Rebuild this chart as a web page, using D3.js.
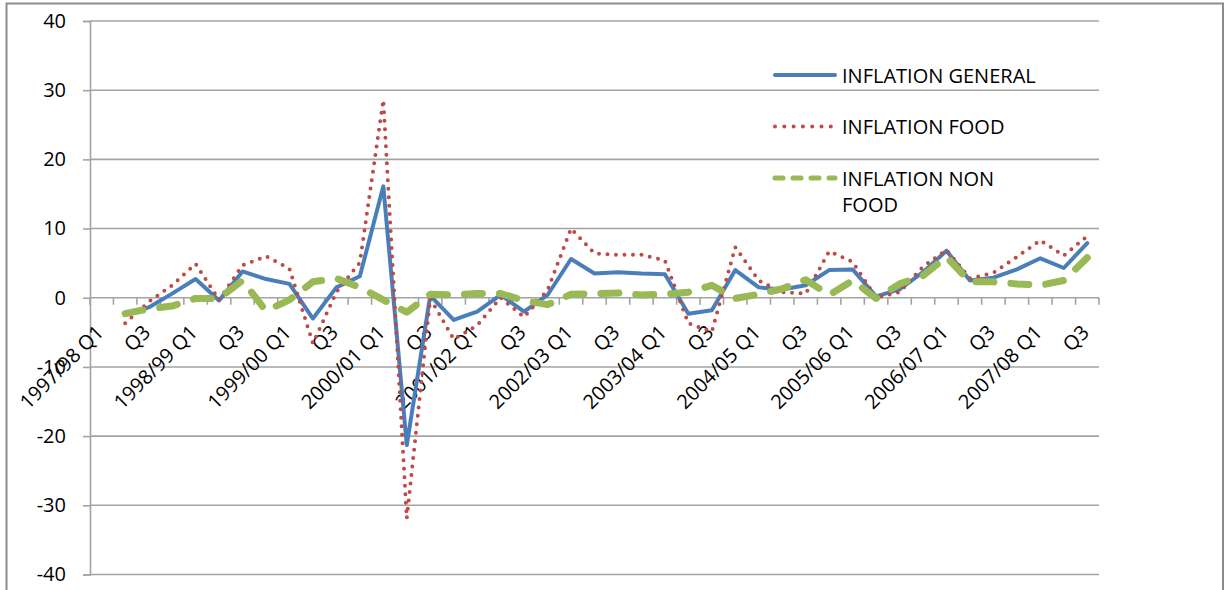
<!DOCTYPE html>
<html>
<head>
<meta charset="utf-8">
<script src="https://cdn.jsdelivr.net/npm/d3@7"></script>
<style>
  body { margin: 0; background: #fff; }
  svg { display: block; }
  text { font-family: "Open Sans", sans-serif; fill: #000; }
</style>
</head>
<body>
<svg id="chart" width="1225" height="590"></svg>
<script>
// Quarterly categories (fiscal years)
const categories = [
  "1997/98 Q1", "Q2", "Q3", "Q4",
  "1998/99 Q1", "Q2 ", "Q3 ", "Q4 ",
  "1999/00 Q1", "Q2  ", "Q3  ", "Q4  ",
  "2000/01 Q1", "Q2   ", "Q3   ", "Q4   ",
  "2001/02 Q1", "Q2    ", "Q3    ", "Q4    ",
  "2002/03 Q1", "Q2     ", "Q3     ", "Q4     ",
  "2003/04 Q1", "Q2      ", "Q3      ", "Q4      ",
  "2004/05 Q1", "Q2       ", "Q3       ", "Q4       ",
  "2005/06 Q1", "Q2        ", "Q3        ", "Q4        ",
  "2006/07 Q1", "Q2         ", "Q3         ", "Q4         ",
  "2007/08 Q1", "Q2          ", "Q3          "
];

// Inflation rates (%), one value per quarter; first quarter has no value
const inflationGeneral = [null, -2.5, -1.4, 0.6, 2.7, -0.4, 3.8, 2.7, 2.0, -3.0, 1.5, 3.1,
  16.1, -21.3, 0.3, -3.2, -2.0, 0.4, -2.0, 0.4, 5.6, 3.5, 3.7, 3.5, 3.4, -2.3, -1.8, 4.0,
  1.5, 1.2, 1.8, 4.0, 4.1, 0.2, 1.2, 3.7, 6.8, 2.5, 2.9, 4.1, 5.7, 4.3, 7.9];

const inflationFood = [null, -3.7, -0.6, 1.8, 4.9, -0.3, 4.7, 6.0, 4.2, -6.6, 0.8, 5.1,
  28.6, -31.9, -0.1, -6.0, -4.0, 0.0, -2.8, 1.1, 10.0, 6.4, 6.2, 6.2, 5.4, -3.7, -4.9, 7.3,
  2.5, 0.8, 0.6, 6.7, 5.2, 0.0, 0.8, 4.5, 6.9, 2.8, 3.6, 5.9, 8.3, 6.1, 8.9];

const inflationNonFood = [null, -2.3, -1.6, -1.2, -0.1, -0.1, 2.5, -1.9, -0.3, 2.3, 2.8, 1.5,
  -0.3, -2.1, 0.5, 0.4, 0.6, 0.6, -0.4, -1.0, 0.5, 0.6, 0.7, 0.4, 0.5, 0.8, 1.8, -0.1,
  0.5, 1.3, 2.6, 0.4, 2.5, -0.1, 2.0, 3.2, 5.9, 2.3, 2.3, 2.0, 1.8, 2.5, 5.8];

const yTickValues = [-40, -30, -20, -10, 0, 10, 20, 30, 40];

const seriesLabels = [["INFLATION GENERAL"], ["INFLATION FOOD"], ["INFLATION NON", "FOOD"]];

const series = [
  { values: inflationGeneral, color: "#4a7ebb", width: 4, dash: null, cap: "round",
    legendDash: null, legendWidth: 4 },
  { values: inflationFood, color: "#be4b48", width: 4, dash: "0 8.5", cap: "round",
    legendDash: "0 9.3", legendWidth: 4 },
  { values: inflationNonFood, color: "#98b954", width: 7, dash: "18 17", cap: "round",
    legendDash: "8 10", legendWidth: 5 }
];

const svg = d3.select("#chart");
const W = 1225, H = 590;
const plot = { left: 90, right: 1099, top: 21, bottom: 574.5 };

// outer chart frame
svg.append("rect")
  .attr("x", 6.5).attr("y", 3.5)
  .attr("width", 1216.5).attr("height", 600)
  .attr("fill", "#fff")
  .attr("stroke", "#8c8c8c").attr("stroke-width", 2);

const x = d3.scaleBand().domain(categories).range([plot.left, plot.right]).padding(0);
const y = d3.scaleLinear().domain([-40, 40]).range([plot.bottom, plot.top]);
const cx = c => x(c) + x.bandwidth() / 2;

const gridColor = "#a3a3a3";

// horizontal gridlines
svg.append("g").selectAll("line")
  .data(yTickValues.filter(v => v !== 0))
  .join("line")
  .attr("x1", plot.left).attr("x2", plot.right)
  .attr("y1", d => y(d)).attr("y2", d => y(d))
  .attr("stroke", gridColor).attr("stroke-width", 1.6);

// y axis
const yAxis = d3.axisLeft(y).tickValues(yTickValues).tickSize(7).tickPadding(17)
  .tickFormat(d3.format("d"));
const gy = svg.append("g").attr("transform", `translate(${plot.left},0)`).call(yAxis);
gy.select(".domain").attr("stroke", gridColor).attr("stroke-width", 1.6);
gy.selectAll(".tick line").attr("stroke", gridColor).attr("stroke-width", 1.6);
gy.selectAll(".tick text")
  .attr("font-size", 20).attr("font-family", "Open Sans, sans-serif").attr("fill", "#000")
  .text(d => d < 0 ? "-" + Math.abs(d) : d);

// x axis at zero with tick marks on category boundaries
const zeroY = y(0);
svg.append("line")
  .attr("x1", plot.left).attr("x2", plot.right)
  .attr("y1", zeroY).attr("y2", zeroY)
  .attr("stroke", gridColor).attr("stroke-width", 1.6);

const boundaries = categories.map(c => x(c)).concat([plot.right]);
svg.append("g").selectAll("line")
  .data(boundaries)
  .join("line")
  .attr("x1", d => d).attr("x2", d => d)
  .attr("y1", zeroY).attr("y2", zeroY + 7)
  .attr("stroke", gridColor).attr("stroke-width", 1.6);

// rotated category labels (every second quarter)
svg.append("g").selectAll("text")
  .data(categories.filter((c, i) => i % 2 === 0))
  .join("text")
  .attr("transform", d => `translate(${cx(d) + 3},${zeroY + 36}) rotate(-45)`)
  .attr("text-anchor", "end")
  .attr("font-size", 20)
  .text(d => d.trim());

// series lines
const line = d3.line()
  .defined(d => d.v !== null)
  .x(d => cx(d.c))
  .y(d => y(d.v));

series.forEach(s => {
  const pts = categories.map((c, i) => ({ c, v: s.values[i] }));
  svg.append("path")
    .datum(pts)
    .attr("d", line)
    .attr("fill", "none")
    .attr("stroke", s.color)
    .attr("stroke-width", s.width)
    .attr("stroke-linejoin", "round")
    .attr("stroke-linecap", s.cap)
    .attr("stroke-dasharray", s.dash);
});

// legend
const legend = svg.append("g").attr("transform", "translate(775,0)");
const legendY = [75, 126.5, 178];
series.forEach((s, i) => {
  legend.append("line")
    .attr("x1", 0).attr("x2", 60)
    .attr("y1", legendY[i]).attr("y2", legendY[i])
    .attr("stroke", s.color)
    .attr("stroke-width", s.legendWidth)
    .attr("stroke-linecap", "round")
    .attr("stroke-dasharray", s.legendDash);
  const t = legend.append("text")
    .attr("x", 67).attr("y", legendY[i] + 7.5)
    .attr("font-size", 20);
  seriesLabels[i].forEach((ln, k) => {
    t.append("tspan").attr("x", 67).attr("dy", k === 0 ? 0 : 26).text(ln);
  });
});
</script>
</body>
</html>
